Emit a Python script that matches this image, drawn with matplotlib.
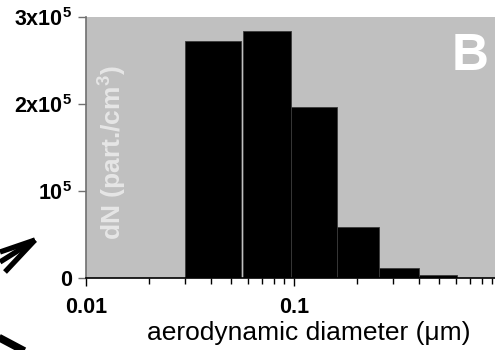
import matplotlib
matplotlib.use("Agg")
import matplotlib.pyplot as plt
from matplotlib.lines import Line2D
from matplotlib.ticker import FixedLocator, FixedFormatter, LogLocator, NullFormatter

plt.rcParams['font.family'] = ['Liberation Sans', 'DejaVu Sans']
plt.rcParams['mathtext.fontset'] = 'custom'
plt.rcParams['mathtext.rm'] = 'Liberation Sans:bold'
plt.rcParams['mathtext.bf'] = 'Liberation Sans:bold'
plt.rcParams['mathtext.it'] = 'Liberation Sans:bold'

# Impactor stage size bins (aerodynamic diameter, µm) and number concentrations
bin_lower = [0.030, 0.057, 0.097, 0.161, 0.256, 0.400]
bin_upper = [0.0556, 0.097, 0.161, 0.256, 0.400, 0.610]
dN = [2.72e5, 2.835e5, 1.97e5, 0.59e5, 0.115e5, 0.035e5]

y_ticks = [0, 1e5, 2e5, 3e5]
y_tick_labels = ['0', r'$\mathregular{10^5}$', r'$\mathregular{2x10^5}$',
                 r'$\mathregular{3x10^5}$']
x_ticks = [0.01, 0.1]
x_tick_labels = ['0.01', '0.1']

W, H = 495, 350
fig = plt.figure(figsize=(W / 100, H / 100), dpi=100)
ax = fig.add_axes([86 / W, 72 / H, (W - 86) / W, 261 / H])
ax.set_facecolor('#c0c0c0')

widths = [u - l for l, u in zip(bin_lower, bin_upper)]
ax.bar(bin_lower, dN, width=widths, align='edge', color='black',
       edgecolor='#3a3a3a', linewidth=0.6, zorder=2)

ax.set_xscale('log')
ax.set_xlim(0.01, 10 ** (-1 + 201 / 208))
ax.set_ylim(0, 3e5)

ax.xaxis.set_major_locator(FixedLocator(x_ticks))
ax.xaxis.set_major_formatter(FixedFormatter(x_tick_labels))
ax.xaxis.set_minor_locator(LogLocator(base=10, subs=range(2, 10)))
ax.xaxis.set_minor_formatter(NullFormatter())
ax.yaxis.set_major_locator(FixedLocator(y_ticks))
ax.yaxis.set_major_formatter(FixedFormatter(y_tick_labels))

ax.tick_params(axis='x', which='major', direction='out', length=6, width=1,
               color='black', labelsize=15.5, pad=8)
ax.tick_params(axis='x', which='minor', direction='out', length=4, width=1,
               color='black')
ax.tick_params(axis='y', which='major', direction='out', length=6, width=1,
               color='#707070', labelsize=15.5, pad=4)
for lbl in ax.get_xticklabels() + ax.get_yticklabels():
    lbl.set_fontweight('bold')

for side in ('top', 'right'):
    ax.spines[side].set_visible(False)
ax.spines['left'].set_color('#707070')
ax.spines['left'].set_linewidth(1.2)
ax.spines['bottom'].set_color('black')
ax.spines['bottom'].set_linewidth(1.2)
ax.spines['bottom'].set_zorder(3)

# y label sits inside the plotting area
fig.text(113 / W, 1 - 153 / H, r'dN (part./cm$\mathregular{^3}$)',
         rotation=90, ha='center', va='center', color='#e6e6e6',
         fontsize=19, fontweight='bold')

# panel letter
fig.text(470 / W, 1 - 57 / H, 'B', ha='center', va='center', color='white',
         fontsize=37, fontweight='bold')

fig.text(309 / W, 1 - 333 / H, 'aerodynamic diameter (\u03bcm)', ha='center',
         va='center', fontsize=19, color='black')

# fragments of neighbouring arrows at the left edge
for x0, y0 in [(0, 252), (0, 262), (5, 272)]:
    fig.add_artist(Line2D([x0 / W, 35 / W], [1 - y0 / H, 1 - 240 / H],
                          transform=fig.transFigure, color='black',
                          linewidth=3.8, solid_capstyle='butt'))
fig.add_artist(Line2D([-2 / W, 30 / W], [1 - 337 / H, 1 - 354 / H],
                      transform=fig.transFigure, color='black',
                      linewidth=5.5, solid_capstyle='butt'))

fig.savefig('out.png', dpi=100)
